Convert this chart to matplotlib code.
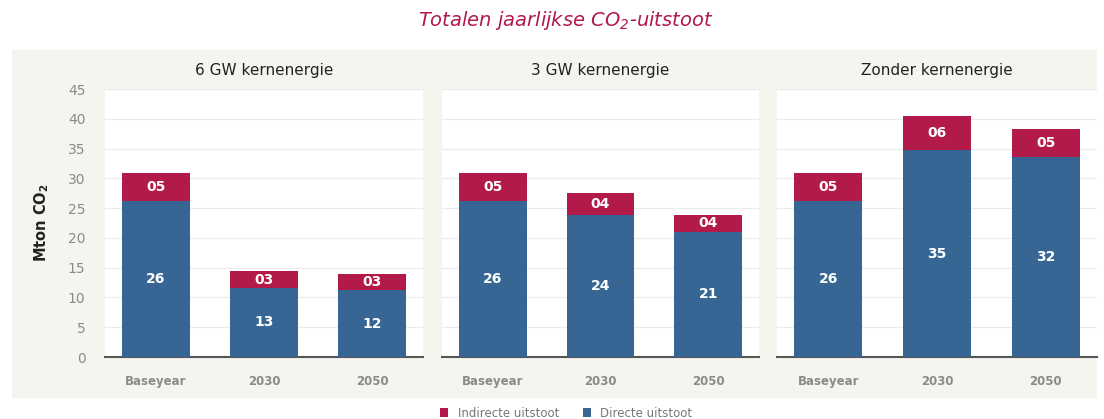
import matplotlib
matplotlib.use("Agg")
import matplotlib.pyplot as plt
from matplotlib.patches import Rectangle, Patch

plt.rcParams['font.family'] = ['DejaVu Sans']
plt.rcParams['mathtext.default'] = 'regular'

categories = ["Baseyear", "2030", "2050"]
scenarios = ["6 GW kernenergie", "3 GW kernenergie", "Zonder kernenergie"]
direct = [
    [26.2, 11.6, 11.2],
    [26.2, 23.8, 21.0],
    [26.2, 34.7, 33.6],
]
indirect = [
    [4.7, 2.8, 2.8],
    [4.7, 3.8, 2.9],
    [4.7, 5.7, 4.7],
]
direct_labels = [["26", "13", "12"], ["26", "24", "21"], ["26", "35", "32"]]
indirect_labels = [["05", "03", "03"], ["05", "04", "04"], ["05", "06", "05"]]
yticks = [0, 5, 10, 15, 20, 25, 30, 35, 40, 45]

RED = "#b11a49"
BLUE = "#386694"
BEIGE = "#f5f4ef"
GREY = "#8a8a8a"

W, H = 1104, 419
fig = plt.figure(figsize=(W / 100, H / 100), dpi=100)
fig.patch.set_facecolor("white")

bg = Rectangle((12 / W, 1 - 398 / H), 1085 / W, 348 / H,
               transform=fig.transFigure, facecolor=BEIGE,
               edgecolor="none", zorder=-10)
fig.add_artist(bg)

fig.text(0.512, 1 - 21 / H, r"Totalen jaarlijkse CO$_2$-uitstoot", ha="center", va="center",
         fontsize=14, style="italic", color=RED)

panels_px = [(105, 423), (442, 759), (777, 1097)]
bottom_px, top_px = 357, 89

for i, (x0, x1) in enumerate(panels_px):
    ax = fig.add_axes([x0 / W, 1 - bottom_px / H, (x1 - x0) / W, (bottom_px - top_px) / H])
    ax.set_zorder(1)
    ax.set_facecolor("white")
    xs = list(range(len(categories)))
    ax.bar(xs, direct[i], width=0.63, color=BLUE, zorder=3)
    ax.bar(xs, indirect[i], bottom=direct[i], width=0.63, color=RED, zorder=3)
    for x, d, ind, dl, il in zip(xs, direct[i], indirect[i], direct_labels[i], indirect_labels[i]):
        ax.text(x, d / 2, dl, ha="center", va="center", color="white",
                fontsize=10, fontweight="bold", zorder=4)
        ax.text(x, d + ind / 2, il, ha="center", va="center", color="white",
                fontsize=10, fontweight="bold", zorder=4)
    ax.set_xlim(-0.47, 2.47)
    ax.set_ylim(0, 45)
    ax.set_yticks(yticks)
    ax.grid(axis="y", color="#ebebeb", linewidth=0.8, zorder=0)
    ax.set_axisbelow(True)
    for s in ["top", "right", "left"]:
        ax.spines[s].set_visible(False)
    ax.spines["bottom"].set_color("#555555")
    ax.spines["bottom"].set_linewidth(1.5)
    ax.set_xticks(xs)
    ax.set_xticklabels(categories, fontsize=8.5, color=GREY, fontweight="bold")
    ax.tick_params(axis="x", length=0, pad=13)
    if i == 0:
        ax.tick_params(axis="y", length=0, labelsize=10, labelcolor=GREY, pad=14)
        ax.set_ylabel(r"Mton CO$_2$", fontsize=10.5, fontweight="bold", color="#222222", labelpad=12)
    else:
        ax.tick_params(axis="y", length=0, labelleft=False)
    ax.set_title(scenarios[i], fontsize=11, color="#222222", pad=10)

handles = [Patch(facecolor=RED, label="Indirecte uitstoot"),
           Patch(facecolor=BLUE, label="Directe uitstoot")]
fig.legend(handles=handles, loc="center", bbox_to_anchor=(0.513, 1 - 413 / H), ncol=2,
           frameon=False, fontsize=8.5, labelcolor="#777777", handlelength=0.7, handleheight=0.7,
           columnspacing=2.0, handletextpad=0.8)

fig.savefig("out.png", dpi=100, facecolor="white")
